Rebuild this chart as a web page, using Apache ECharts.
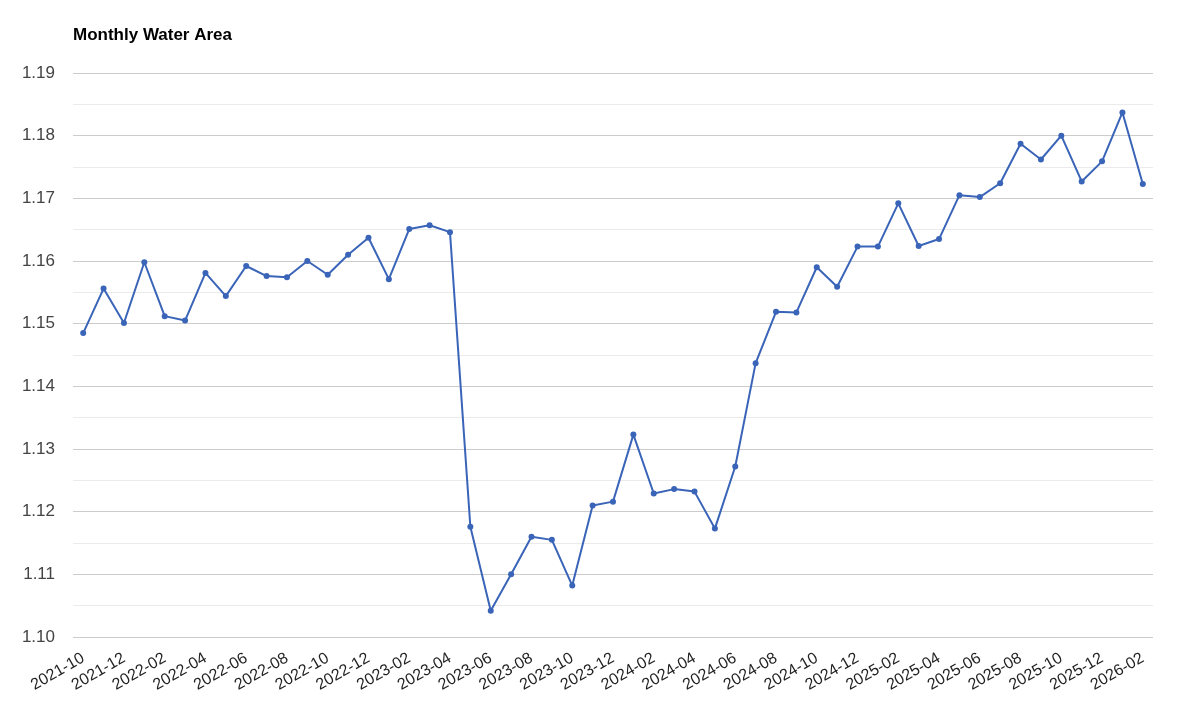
<!DOCTYPE html>
<html>
<head>
<meta charset="utf-8">
<script src="https://cdn.jsdelivr.net/npm/echarts@6/dist/echarts.min.js"></script>
<style>html,body{margin:0;padding:0;background:#fff}#c{width:1190px;height:719px}</style>
</head>
<body>
<div id="c"></div>
<script>
const months = ["2021-10","2021-11","2021-12",
 "2022-01","2022-02","2022-03","2022-04","2022-05","2022-06","2022-07","2022-08","2022-09","2022-10","2022-11","2022-12",
 "2023-01","2023-02","2023-03","2023-04","2023-05","2023-06","2023-07","2023-08","2023-09","2023-10","2023-11","2023-12",
 "2024-01","2024-02","2024-03","2024-04","2024-05","2024-06","2024-07","2024-08","2024-09","2024-10","2024-11","2024-12",
 "2025-01","2025-02","2025-03","2025-04","2025-05","2025-06","2025-07","2025-08","2025-09","2025-10","2025-11","2025-12",
 "2026-01","2026-02"];
const waterArea = [1.1485,1.1556,1.1501,
 1.1598,1.1512,1.1505,1.1581,1.1544,1.1592,1.1576,1.1574,1.1600,1.1578,1.1610,1.1637,
 1.1571,1.1651,1.1657,1.1646,1.1176,1.1042,1.1100,1.1160,1.1155,1.1082,1.1210,1.1216,
 1.1323,1.1229,1.1236,1.1232,1.1173,1.1272,1.1437,1.1519,1.1518,1.1590,1.1559,1.1623,
 1.1623,1.1692,1.1624,1.1635,1.1705,1.1702,1.1724,1.1787,1.1762,1.1800,1.1727,1.1759,
 1.1837,1.1723];
const chartTitle = "Monthly Water Area";

const chart = echarts.init(document.getElementById('c'), null, {renderer: 'canvas'});
chart.setOption({
  animation: false,
  backgroundColor: '#ffffff',
  title: {
    text: chartTitle,
    left: 73, top: 27, padding: 0,
    textStyle: {fontFamily: 'Liberation Sans, Arial, sans-serif', fontSize: 17, fontWeight: 'bold', color: '#000'}
  },
  grid: {left: 73, right: 37, top: 73, bottom: 82, containLabel: false},
  xAxis: {
    type: 'category',
    data: months,
    boundaryGap: true,
    axisLine: {show: false},
    axisTick: {show: false},
    splitLine: {show: false},
    axisLabel: {
      interval: 1,
      rotate: 30,
      margin: 20,
      color: '#222',
      fontFamily: 'Liberation Sans, Arial, sans-serif',
      fontSize: 16
    }
  },
  yAxis: {
    type: 'value',
    min: 1.10, max: 1.19, interval: 0.01,
    axisLine: {show: false},
    axisTick: {show: false},
    axisLabel: {
      formatter: v => v.toFixed(2),
      color: '#444',
      fontFamily: 'Liberation Sans, Arial, sans-serif',
      fontSize: 17,
      margin: 18
    },
    splitLine: {lineStyle: {color: '#cccccc', width: 1}},
    minorTick: {show: false, splitNumber: 2},
    minorSplitLine: {show: true, lineStyle: {color: '#ebebeb', width: 1}}
  },
  series: [{
    type: 'line',
    data: waterArea,
    symbol: 'circle',
    symbolSize: 6,
    lineStyle: {color: '#3a64b8', width: 2},
    itemStyle: {color: '#3a64b8'}
  }]
});
</script>
</body>
</html>
